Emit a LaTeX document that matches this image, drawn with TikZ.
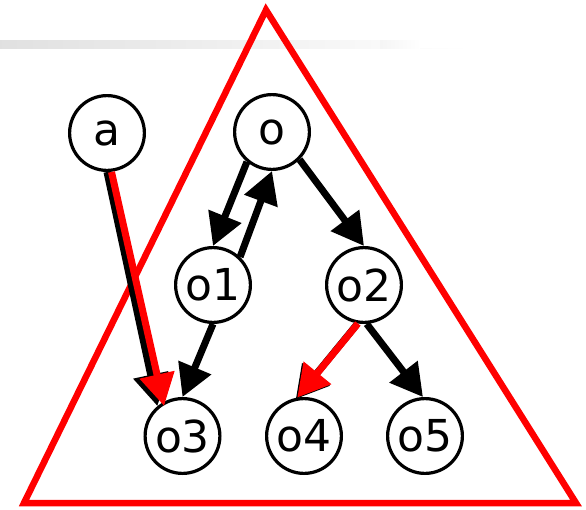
\documentclass[tikz,border=0pt]{standalone}
\usepackage{fontspec}
\setmainfont{DejaVu Sans}
\usetikzlibrary{arrows.meta}
\definecolor{hot}{RGB}{255,0,0}
\begin{document}
\begin{tikzpicture}[x=1pt,y=-1pt,
  obj/.style={circle, draw=black, line width=3.2pt, fill=white,
    minimum size=74.8pt, inner sep=0pt, font=\fontsize{44}{50}\selectfont},
  ref/.style={line width=7pt, -{Triangle[length=32pt,width=34pt]}},
  blackref/.style={ref, draw=black},
  redref/.style={ref, draw=hot},
  region/.style={draw=hot, line width=6.5pt}]
\useasboundingbox (0,0) rectangle (586,509);

% faded rule across the top
\shade[left color=black!12, right color=white] (0,40) rectangle (470,48);
\fill[white] (420,40) rectangle (470,48);
\shade[left color=black!4, right color=white] (380,40) rectangle (420,48);

% the red region
\draw[region] (266,10) -- (576,503) -- (24,503) -- cycle;

% objects
\node[obj] (a)  at (107,133) {a};
\node[obj] (o)  at (272,132) {o};
\node[obj] (o1) at (213,285) {o1};
\node[obj] (o2) at (364,285) {o2};
\node[obj] (o3) at (182.5,436) {o3};
\node[obj] (o4) at (304,436) {o4};
\node[obj] (o5) at (425,436) {o5};

% references
\draw[blackref] (o.230) -- (o1.90);
\draw[blackref] (o1.46) -- (o.270);
\draw[blackref] (o.-45) -- (o2.90);
\draw[blackref] (o1.270) -- (o3.90);
\draw[blackref] (o2.274) -- (o5.93);

\draw[blackref] (a.270) -- (o3.130);
\draw[redref] ([xshift=4.5pt]a.270) -- ([xshift=4.5pt,yshift=-1.5pt]o3.126);

\draw[blackref] ([xshift=-1.5pt,yshift=-1.5pt]o2.261) -- ([xshift=-1.5pt,yshift=-1.5pt]o4.100);
\draw[redref] (o2.261) -- (o4.100);
\end{tikzpicture}
\end{document}
